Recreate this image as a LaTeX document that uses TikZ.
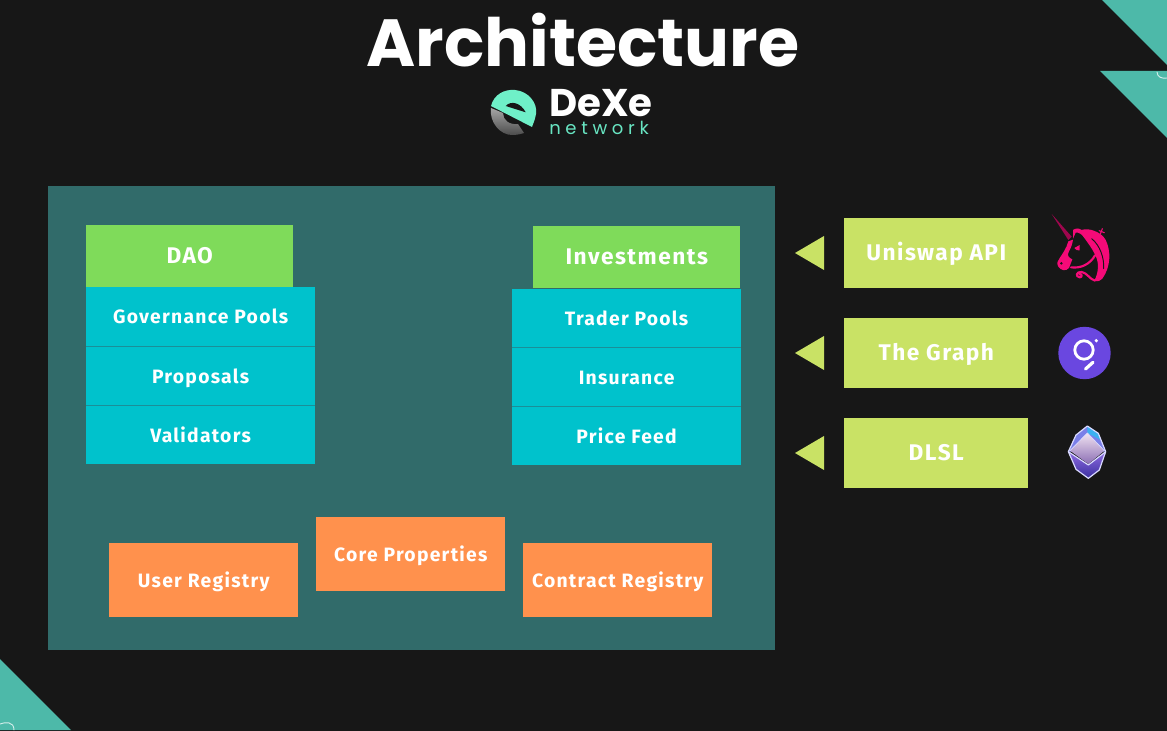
\documentclass[tikz,border=0pt]{standalone}
\usepackage{fontspec}
\setmainfont{Fira Sans}
\newfontfamily\titlefont{Poppins}
\definecolor{pagebg}{HTML}{171717}
\definecolor{panelbg}{HTML}{316B6A}
\definecolor{cornerteal}{HTML}{4DB9A9}
\definecolor{headgreen}{HTML}{7FDB5A}
\definecolor{listcyan}{HTML}{00C2CC}
\definecolor{listline}{HTML}{1B8F98}
\definecolor{coreorange}{HTML}{FF914D}
\definecolor{apilime}{HTML}{C9E265}
\definecolor{logoteal}{HTML}{6FF0C8}
\definecolor{unipink}{HTML}{F50A78}
\definecolor{graphpurple}{HTML}{6A47E0}
\definecolor{gemblue}{HTML}{7A7FE8}
\definecolor{gemcyan}{HTML}{3BB0F0}
\definecolor{gempale}{HTML}{F0E2F0}
\definecolor{gemmauve}{HTML}{8C6FB5}
\definecolor{gemviolet}{HTML}{8E6BE0}
\definecolor{gemdark}{HTML}{3A2FA0}
\tikzset{
	box/.style={anchor=north west,inner sep=0pt,text=white,align=center,text height=10.5pt,text depth=0pt,font=\fontsize{14.5}{16}\selectfont\bfseries\addfontfeatures{LetterSpace=6.5}},
	headbox/.style={box,fill=headgreen,minimum width=155.25pt,minimum height=46pt,text height=11.5pt,font=\fontsize{17}{19}\selectfont\bfseries\addfontfeatures{LetterSpace=6.5}},
	listbox/.style={box,fill=listcyan,minimum width=171.5pt,minimum height=44pt},
	sepline/.style={listline,line width=0.75pt,line cap=butt},
	corebox/.style={box,fill=coreorange,minimum width=141.75pt,minimum height=55pt,text height=11pt},
	apibox/.style={box,fill=apilime,minimum width=138pt,minimum height=52.5pt,text height=11.5pt,font=\fontsize{17}{19}\selectfont\bfseries\addfontfeatures{LetterSpace=6.5}},
	gemline/.style={white!85!blue,line width=0.9pt},
}
\begin{document}
\begin{tikzpicture}[x=0.75pt,y=-0.75pt,line join=round,line cap=round]
	\fill[pagebg] (0,0) rectangle (1167,731);
	\useasboundingbox (0,0) rectangle (1167,731);
	% corners
	\fill[cornerteal] (1102,0)--(1167,65)--(1167,0)--cycle;
	\fill[cornerteal] (1100,71)--(1167,138)--(1167,71)--cycle;
	\fill[cornerteal] (0,659)--(71,730)--(0,730)--cycle;
	\draw[white!75!cornerteal,line width=0.7pt] (1157,72) .. controls (1157,77) and (1162,79) .. (1167,78);
	\draw[white!75!cornerteal,line width=0.7pt] (0,724) .. controls (5,722) and (14,721) .. (14,730);
	% title
	\node[text=white,font=\titlefont\fontsize{50}{56}\selectfont\bfseries] (title) at (583,40) {Architecture};
	% logo
	\shade[top color=black!35,bottom color=black!70] (491,108) .. controls (489,122) and (500,135) .. (512,135) .. controls (517,135) and (521,134) .. (524,133) -- (518,124) .. controls (509,125) and (503,120) .. (503,113) -- cycle;
	\fill[logoteal] (491,106) .. controls (494,94) and (505,89) .. (515,90) .. controls (528,91) and (538,103) .. (536,114) .. controls (535,120) and (533,124) .. (532,127) -- cycle;
	\fill[pagebg] (505.7,106) .. controls (511,100) and (521,103) .. (525.7,112.3) -- cycle;
	\node[anchor=base west,inner sep=0pt,text=white,text height=20pt,text depth=0pt,font=\titlefont\fontsize{29}{30}\selectfont\bfseries] (dexe) at (549,117) {DeXe};
	\node[anchor=base west,inner sep=0pt,text=logoteal!80!cornerteal,text height=7pt,text depth=0pt,font=\titlefont\fontsize{13.5}{14}\selectfont\addfontfeatures{LetterSpace=26}] (network) at (549,135) {network};
	% main panel
	\fill[panelbg] (48,186) rectangle (775,650);
	\node[headbox] (dao) at (86,225) {DAO};
	\node[listbox] (govpools) at (86,287) {Governance Pools};
	\node[listbox] (proposals) at (86,346.5) {Proposals};
	\node[listbox] (validators) at (86,405.5) {Validators};
	\draw[sepline] (proposals.north west) -- (proposals.north east);
	\draw[sepline] (validators.north west) -- (validators.north east);
	\node[headbox] (invest) at (533,226) {Investments};
	\node[listbox] (traderpools) at (512,289) {Trader Pools};
	\node[listbox] (insurance) at (512,347.5) {Insurance};
	\node[listbox] (pricefeed) at (512,406.5) {Price Feed};
	\draw[sepline] (insurance.north west) -- (insurance.north east);
	\draw[sepline] (pricefeed.north west) -- (pricefeed.north east);
	\node[corebox] (userreg) at (109,543) {User Registry};
	\node[corebox] (coreprops) at (316,517) {Core Properties};
	\node[corebox] (contractreg) at (523,543) {Contract Registry};
	% external services
	\node[apibox] (uniswap) at (844,218) {Uniswap API};
	\node[apibox] (graph) at (844,318) {The Graph};
	\node[apibox] (dlsl) at (844,418) {DLSL};
	\foreach \ypos in {253,353,453}
		\fill[apilime] (795,\ypos)--(824,\ypos-17)--(824,\ypos+17)--cycle;
	% unicorn icon
	\begin{scope}[shift={(1045,208)},scale=1/3]
		\fill[unipink!65!black] (20,18)--(80,86)--(70,96)--cycle;
		\fill[unipink] (70,100) .. controls (64,122) and (52,138) .. (44,150) .. controls (38,158) and (34,166) .. (40,176) .. controls (46,186) and (62,192) .. (72,180) .. controls (78,172) and (76,162) .. (82,154) .. controls (72,150) and (64,142) .. (72,130) .. controls (78,120) and (82,108) .. (84,95) -- cycle;
		\fill[pagebg] (49,166) circle [radius=4];
		\fill[unipink] (88,120) -- (104,111) -- (104,127) .. controls (98,129) and (92,126) .. (88,120) -- cycle;
		\fill[unipink] (84,92) -- (84,66) .. controls (92,60) and (102,60) .. (110,66) .. controls (130,58) and (170,72) .. (182,96) .. controls (198,128) and (198,176) .. (172,212) .. controls (168,218) and (158,222) .. (148,218) .. controls (160,195) and (164,165) .. (150,140) .. controls (142,122) and (128,104) .. (118,90) .. controls (112,80) and (102,72) .. (92,74) -- cycle;
		\draw[pagebg,line width=0.7pt] (140,92) .. controls (165,112) and (178,150) .. (176,182);
		\draw[unipink,line width=1.6pt] (78,178) .. controls (108,182) and (136,168) .. (150,142);
		\draw[unipink,line width=1.6pt] (150,218) .. controls (134,214) and (126,194) .. (110,192) .. controls (94,190) and (90,206) .. (104,208) .. controls (112,208) and (112,198) .. (104,199);
		\draw[unipink,line width=0.8pt] (166,78) -- (172,62) (162,68) -- (178,74);
	\end{scope}
	% the graph icon
	\fill[graphpurple] (1084.5,353) circle [radius=26.2];
	\draw[white,line width=2.1pt] (1084,350) circle [radius=9.2];
	\fill[white] (1096.3,340.7) circle [radius=1.8];
	\draw[white,line width=2.4pt] (1085.5,369) -- (1093,362.3);
	% crystal icon
	\begin{scope}[shift={(1060,420)},scale=1/3]
		\fill[gemblue] (82,18)--(115,40)--(137,95)--(25,95)--(48,45)--cycle;
		\fill[gemcyan] (82,18)--(115,40)--(122,60)--(82,39)--cycle;
		\shade[top color=gempale,bottom color=gemmauve] (82,39)--(133,92)--(85,132)--(30,92)--cycle;
		\shade[top color=gemviolet,bottom color=gemdark] (25,95)--(85,135)--(137,95)--(118,150)--(85,175)--(48,148)--cycle;
		\draw[gemline] (82,18)--(115,40)--(137,95)--(118,150)--(85,175)--(48,148)--(25,95)--(48,45)--cycle;
		\draw[gemline] (25,95)--(85,135)--(137,95);
		\draw[gemline,line width=0.5pt] (30,92)--(82,39)--(133,92);
	\end{scope}
\end{tikzpicture}
\end{document}
